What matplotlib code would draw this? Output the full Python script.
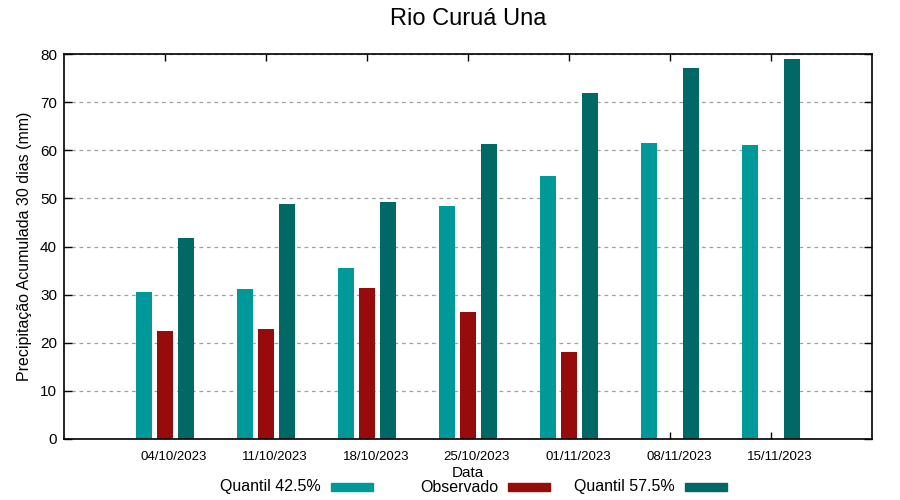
#!/usr/bin/env python3

import numpy as np
import matplotlib
matplotlib.use("Agg")
import matplotlib.pyplot as plt
from matplotlib.patches import Rectangle
import matplotlib.transforms as mtransforms

plt.rcParams['font.family'] = ['Liberation Sans', 'DejaVu Sans']

# data
datas = ["04/10/2023", "11/10/2023", "18/10/2023", "25/10/2023",
         "01/11/2023", "08/11/2023", "15/11/2023"]
quantil_425 = [30.5, 31.2, 35.5, 48.4, 54.6, 61.5, 61.1]
observado = [22.4, 22.9, 31.4, 26.4, 18.1, np.nan, np.nan]
quantil_575 = [41.8, 48.8, 49.2, 61.3, 71.9, 77.1, 79.0]

cor_q1 = "#009999"
cor_obs = "#960c0c"
cor_q2 = "#006966"


def main():
	fig = plt.figure(figsize=(9, 5), dpi=100)
	ax = fig.add_axes([64 / 900, 61 / 500, 808 / 900, 385 / 500])

	x = np.arange(len(datas))
	largura = 0.16
	b1 = ax.bar(x - 0.205, quantil_425, largura, color=cor_q1, label="Quantil 42.5%")
	b2 = ax.bar(x, observado, largura, color=cor_obs, label="Observado")
	b3 = ax.bar(x + 0.205, quantil_575, largura, color=cor_q2, label="Quantil 57.5%")

	ax.set_xlim(-1, 7)
	ax.set_ylim(0, 80)
	ax.set_yticks(range(0, 81, 10))
	ax.set_xticks(x)
	ax.set_xticklabels(datas, fontsize=9.5)
	ax.tick_params(axis='y', labelsize=11, direction='in', length=6, width=1,
				   right=True, pad=5)
	ax.tick_params(axis='x', direction='in', length=5, width=1, top=True, pad=9)

	# gnuplot puts the date labels a bit to the right of the tick
	offset = mtransforms.ScaledTranslation(9 / 100, 0, fig.dpi_scale_trans)
	for lbl in ax.get_xticklabels():
		lbl.set_transform(lbl.get_transform() + offset)

	for sp in ax.spines.values():
		sp.set_linewidth(1.2)

	ax.grid(axis='y', color='#a0a0a0', linestyle=(0, (3, 3)), linewidth=0.9)
	ax.set_axisbelow(True)

	ax.set_ylabel("Precipitação Acumulada 30 dias (mm)", fontsize=11.5, labelpad=6)
	fig.text(468 / 900, 1 - 473 / 500, "Data", fontsize=11, ha='center', va='center')
	fig.text(468 / 900, 1 - 19 / 500, "Rio Curuá Una", fontsize=17, ha='center', va='center')

	# legend laid out like gnuplot: text then a colour sample, fixed-width entries
	y_leg = 1 - 487 / 500
	for i, barras in enumerate([b1, b2, b3]):
		x0 = (331 + 177 * i) / 900
		fig.text(x0 - 10 / 900, y_leg, barras.get_label(), fontsize=11.5,
				 ha='right', va='center')
		fig.patches.append(Rectangle((x0, y_leg - 4 / 500), 42 / 900, 8 / 500,
									 transform=fig.transFigure,
									 color=barras.patches[0].get_facecolor()))

	fig.savefig("out.png", dpi=100)


if __name__ == "__main__":
	main()
